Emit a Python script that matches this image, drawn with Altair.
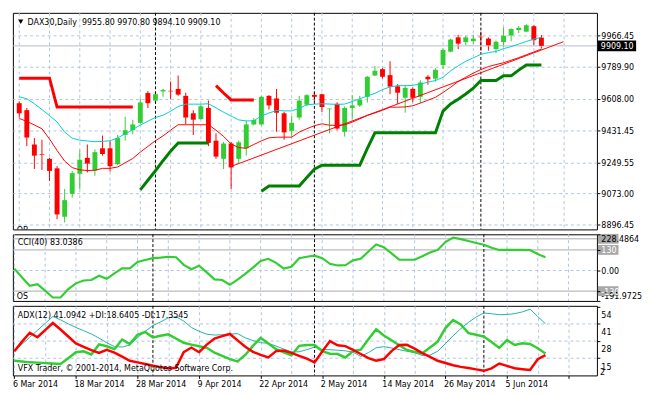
import altair as alt
import pandas as pd

# ---------------- data ----------------
tick_labels = ["6 Mar 2014", "18 Mar 2014", "28 Mar 2014", "9 Apr 2014", "22 Apr 2014",
               "2 May 2014", "14 May 2014", "26 May 2014", "5 Jun 2014"]
month_starts = [18, 39, 61]
price_ticks = [8896.45, 9073.00, 9249.55, 9431.45, 9608.00, 9789.90, 9966.45]

open_ = [9584.4, 9544.9, 9350.4, 9294.7, 9269.3, 9215.3, 8941.3, 9071.0, 9184.5, 9274.7,
         9202.9, 9328.8, 9328.8, 9238.6, 9404.4, 9431.5, 9473.1, 9642.2, 9599.0, 9651.4,
         9654.6, 9665.4, 9626.0, 9527.1, 9494.7, 9557.4, 9372.1, 9269.3, 9355.8, 9269.3,
         9328.8, 9463.9, 9463.9, 9626.0, 9611.4, 9527.1, 9427.7, 9503.3, 9575.8, 9631.4,
         9635.2, 9550.3, 9581.1, 9422.3, 9557.4, 9571.9, 9620.6, 9741.1, 9777.3, 9743.3,
         9680.0, 9615.2, 9665.4, 9620.6, 9734.1, 9723.3, 9800.6, 9876.2, 9957.3, 9930.2,
         9935.6, 9961.0, 9950.2, 9890.8, 9930.2, 9968.1, 9998.9, 9989.7, 10020.5, 9955.80]
high = [9593.6, 9557.4, 9386.6, 9377.4, 9274.7, 9227.7, 9098.0, 9200.7, 9318.0, 9350.4,
        9323.4, 9400.7, 9372.1, 9404.4, 9507.1, 9490.9, 9611.4, 9653.0, 9647.6, 9665.4,
        9707.1, 9741.1, 9643.8, 9544.9, 9575.8, 9599.0, 9413.6, 9365.0, 9365.0, 9372.1,
        9485.5, 9500.1, 9626.0, 9629.8, 9665.4, 9535.8, 9512.5, 9626.0, 9635.2, 9647.6,
        9638.4, 9554.1, 9589.8, 9566.6, 9629.8, 9626.0, 9737.9, 9795.1, 9782.7, 9822.2,
        9692.5, 9683.8, 9674.6, 9714.1, 9743.3, 9782.7, 9894.6, 9950.2, 9971.9, 9966.5,
        9971.9, 9989.7, 9957.3, 9939.4, 10013.5, 10008.1, 10022.1, 10031.3, 10025.9, 9970.80]
low = [9501.7, 9341.2, 9211.5, 9206.1, 9143.4, 8927.3, 8908.9, 9049.4, 9098.0, 9192.1,
       9173.7, 9287.2, 9197.5, 9233.1, 9372.1, 9408.2, 9467.7, 9557.4, 9584.4, 9620.6,
       9606.0, 9626.0, 9463.9, 9404.4, 9490.9, 9341.2, 9269.3, 9211.5, 9098.0, 9242.3,
       9287.2, 9458.5, 9458.5, 9548.7, 9422.3, 9377.4, 9395.3, 9490.9, 9566.6, 9593.6,
       9534.1, 9413.6, 9431.5, 9395.3, 9494.7, 9562.8, 9588.2, 9737.9, 9724.9, 9635.2,
       9581.1, 9530.4, 9589.8, 9584.4, 9689.2, 9707.1, 9778.9, 9873.0, 9890.8, 9912.4,
       9921.6, 9881.6, 9881.6, 9867.6, 9900.0, 9935.6, 9981.0, 9986.4, 9912.4, 9894.10]
close = [9527.1, 9389.8, 9287.2, 9291.0, 9200.7, 8954.3, 9035.3, 9188.3, 9263.9, 9242.3,
         9307.2, 9296.4, 9227.7, 9386.6, 9431.5, 9463.9, 9588.2, 9584.4, 9635.2, 9660.0,
         9651.4, 9633.0, 9503.3, 9490.9, 9566.6, 9359.6, 9281.8, 9355.8, 9220.7, 9362.8,
         9463.9, 9489.3, 9620.6, 9571.9, 9530.4, 9419.0, 9473.1, 9599.0, 9629.8, 9620.6,
         9562.8, 9554.1, 9440.6, 9557.4, 9571.9, 9602.8, 9734.1, 9768.1, 9734.1, 9678.4,
         9643.8, 9670.9, 9615.2, 9701.6, 9719.5, 9773.5, 9885.4, 9944.8, 9921.6, 9957.3,
         9950.2, 9957.8, 9912.4, 9932.4, 9966.5, 10004.3, 10011.3, 10025.9, 9941.0, 9909.10]

ma_cyan = [9620.6, 9609.3, 9581.2, 9548.2, 9514.1, 9478.5, 9420.6, 9386.1, 9374.7, 9370.4,
           9366.1, 9367.7, 9371.5, 9388.2, 9410.4, 9435.2, 9460.6, 9482.8, 9503.9, 9516.3,
           9539.0, 9565.5, 9579.0, 9579.0, 9579.0, 9581.2, 9557.9, 9533.1, 9511.4, 9489.8,
           9483.9, 9485.0, 9512.5, 9528.7, 9543.3, 9541.2, 9540.6, 9555.2, 9575.8, 9579.0,
           9581.2, 9579.5, 9577.4, 9579.5, 9593.6, 9609.3, 9625.5, 9640.1, 9661.1, 9676.3,
           9683.8, 9683.8, 9685.4, 9693.0, 9703.8, 9712.5, 9731.4, 9767.6, 9796.2, 9821.6,
           9841.1, 9861.1, 9871.3, 9877.3, 9893.5, 9904.8, 9919.4, 9934.0, 9947.5, 9957.3]
ma_red = [9497.9, 9481.2, 9461.2, 9439.6, 9381.7, 9316.4, 9256.4, 9219.6, 9206.6, 9202.9,
          9204.5, 9215.3, 9215.3, 9222.9, 9247.2, 9271.0, 9307.2, 9339.6, 9372.0, 9399.0,
          9431.5, 9462.3, 9462.3, 9462.3, 9462.3, 9462.3, 9431.5, 9396.3, 9353.1, 9333.1,
          9328.8, 9350.4, 9371.0, 9388.2, 9391.5, 9392.0, 9392.0, 9420.6, 9439.6, 9456.9,
          9467.7, 9459.6, 9458.5, 9461.7, 9476.9, 9495.8, 9515.2, 9529.3, 9544.4, 9561.7,
          9561.7, 9563.3, 9569.8, 9585.0, 9601.2, 9617.9, 9644.9, 9674.6, 9707.1, 9731.4,
          9754.6, 9774.6, 9791.9, 9803.2, 9813.5, 9827.6, 9842.2, 9858.4, 9874.6, 9890.8]

trend_k = [27.9, 71.9]
trend_p = [9224.5, 9932.4]

stop_red1_k = [0, 4, 5, 15]
stop_red1_p = [9725.9, 9725.9, 9562.8, 9562.8]
stop_red2_k = [26, 27, 28, 31]
stop_red2_p = [9683.8, 9642.2, 9602.8, 9602.8]
stop_green1_k = [16, 17, 18, 19, 20, 21, 25]
stop_green1_p = [9093.7, 9147.7, 9201.7, 9258.5, 9312.6, 9358.5, 9358.5]
stop_green2_k = list(range(32, 70))
stop_green2_p = [9085.6, 9115.3, 9115.3, 9115.3, 9115.3, 9115.3, 9163.9, 9209.9, 9233.1, 9233.1,
                 9233.1, 9233.1, 9233.1, 9233.1, 9328.8, 9416.9, 9416.9, 9416.9, 9416.9, 9416.9,
                 9416.9, 9416.9, 9416.9, 9416.9, 9539.5, 9580.0, 9607.1, 9636.8, 9669.0, 9712.6,
                 9712.6, 9712.6, 9739.5, 9739.5, 9771.9, 9800.6, 9800.6, 9800.6]

cci = [12, -44, -96, -86, -128, -170, -170, -117, -81, -63,
       -60, -33, -52, -18, 14, 14, 54, 66, 78, 81,
       87, 84, 36, 8, 30, -12, -56, -60, -90, -57,
       -21, 18, 60, 74, 48, 12, 24, 78, 87, 94,
       78, 42, 32, 33, 64, 74, 120, 164, 147, 108,
       69, 68, 68, 90, 114, 130, 180, 208, 198, 186,
       174, 163, 144, 130, 130, 130, 130, 129, 104, 83.0386]
cci_levels = [200, 130, -130]

adx = [20.3, 25.7, 30.9, 36.2, 41.4, 46.6, 44.1, 41.1, 38.3, 35.9,
       33.4, 30.3, 26.8, 23.8, 23.5, 25.0, 30.7, 35.4, 39.7, 42.6,
       45.6, 46.5, 43.2, 38.3, 35.4, 33.2, 32.6, 32.8, 33.3, 33.6,
       30.5, 28.4, 26.8, 26.3, 24.2, 22.0, 19.8, 19.9, 21.5, 23.5,
       21.6, 21.5, 21.1, 20.6, 19.7, 16.3, 19.3, 22.9, 23.8, 22.8,
       21.5, 20.3, 19.3, 17.1, 17.4, 20.3, 26.1, 32.0, 37.4, 42.2,
       46.3, 49.3, 48.7, 48.0, 48.2, 48.8, 50.1, 52.2, 46.6, 41.0942]
pdi = [13.1, 12.5, 11.9, 11.7, 11.3, 11.0, 10.7, 15.0, 19.6, 20.3,
       17.9, 25.5, 24.1, 21.9, 29.2, 25.7, 32.8, 34.9, 30.8, 32.0,
       33.1, 30.0, 26.7, 25.3, 24.1, 22.9, 19.2, 16.8, 14.3, 12.6,
       17.5, 24.4, 30.5, 26.2, 21.9, 19.5, 17.3, 24.4, 25.1, 25.1,
       20.4, 18.4, 18.2, 15.6, 20.4, 21.5, 29.4, 37.0, 32.2, 28.7,
       24.9, 21.3, 19.7, 18.8, 23.2, 27.6, 37.9, 43.9, 40.6, 34.0,
       32.8, 31.4, 27.3, 22.8, 28.7, 25.1, 26.3, 25.8, 22.6, 18.6405]
mdi = [20.3, 27.6, 34.3, 30.9, 36.3, 41.7, 36.8, 31.5, 26.2, 23.7,
       21.2, 19.1, 21.4, 19.3, 16.2, 13.1, 11.9, 10.7, 9.4, 8.3,
       7.3, 7.8, 19.6, 23.1, 19.6, 25.3, 29.9, 31.8, 33.4, 28.5,
       23.7, 19.9, 17.6, 15.6, 20.4, 20.9, 19.1, 16.8, 14.7, 11.9,
       20.1, 28.0, 24.8, 24.2, 21.3, 18.2, 15.1, 13.1, 14.4, 20.4,
       25.1, 25.2, 22.3, 18.9, 16.1, 13.1, 11.4, 9.7, 8.5, 7.6,
       6.6, 5.5, 7.4, 11.0, 9.2, 7.4, 6.7, 6.1, 14.3, 17.3545]
adx_ticks = [54, 41, 28, 15]
adx_grid = [41, 28, 15]

# ---------------- styling ----------------
FONT = "DejaVu Sans Condensed, Liberation Sans, sans-serif"
FS = 9
GRID = "#B0C4DE"
UP, DOWN = "#32CD32", "#FF0000"
W = 596
H_MAIN, H_CCI, H_ADX = 221, 68, 71

n = len(close)
ks = list(range(n))
bars = pd.DataFrame({"k": ks, "open": open_, "high": high, "low": low, "close": close,
                     "dir": ["up" if c >= o else "down" for o, c in zip(open_, close)]})
lines = pd.DataFrame({"k": ks, "ma_cyan": ma_cyan, "ma_red": ma_red,
                      "cci": cci, "adx": adx, "pdi": pdi, "mdi": mdi})
stops = pd.concat([
    pd.DataFrame({"seg": "r1", "clr": "#FF0000", "k": stop_red1_k, "price": stop_red1_p}),
    pd.DataFrame({"seg": "r2", "clr": "#FF0000", "k": stop_red2_k, "price": stop_red2_p}),
    pd.DataFrame({"seg": "g1", "clr": "#008000", "k": stop_green1_k, "price": stop_green1_p}),
    pd.DataFrame({"seg": "g2", "clr": "#008000", "k": stop_green2_k, "price": stop_green2_p}),
])
trend = pd.DataFrame({"k": trend_k, "price": trend_p})
months = pd.DataFrame({"k": month_starts})
bid = pd.DataFrame({"price": [close[-1]], "lbl": [f"{close[-1]:.2f}"]})

xs = alt.Scale(domain=[-0.19, 75.69], nice=False, zero=False)
grid_vals = list(range(0, 76, 4))
vgrid = pd.DataFrame({"k": grid_vals})
js_labels = "[" + ",".join("'" + s + "'" for s in tick_labels) + "]"
ax_x_bottom = alt.Axis(
    values=grid_vals, grid=True, gridColor=GRID, gridDash=[3, 3], domain=False, title=None,
    labelExpr=f"(datum.value % 8 == 0 && datum.value / 8 < {len(tick_labels)}) ? {js_labels}[datum.value / 8] : ''",
    labelAlign="left", labelOffset=-2, labelFlush=False, labelOverlap=False, labelPadding=1,
    tickSize=3, tickColor="black",
    tickOpacity={"condition": {"test": "datum.value % 8 == 0", "value": 1}, "value": 0})
X = alt.X("k:Q", scale=xs, axis=None, title=None)
XB = alt.X("k:Q", scale=xs, axis=ax_x_bottom, title=None)

ps = alt.Scale(domain=[8869.4, 10096.2], nice=False, zero=False)
ax_p = alt.Axis(orient="right", values=price_ticks, format=".2f", grid=True, gridColor=GRID,
                gridDash=[3, 3], tickSize=3, labelPadding=1, domain=False, title=None,
                labelOverlap=False)


def PY(f):
    return alt.Y(f"{f}:Q", scale=ps, axis=ax_p, title=None)


col = alt.Color("dir:N", scale=alt.Scale(domain=["up", "down"], range=[UP, DOWN]), legend=None)
one = pd.DataFrame({"t": [f"DAX30,Daily\u00a0\u00a0{open_[-1]:.2f} {high[-1]:.2f} {low[-1]:.2f} {close[-1]:.2f}"]})

vgrid_main = alt.Chart(vgrid).mark_rule(color=GRID, strokeDash=[3, 3], strokeWidth=1).encode(x=X)
wick = alt.Chart(bars).mark_rule(strokeWidth=1).encode(x=X, y=PY("low"), y2="high", color=col)
body = alt.Chart(bars).mark_bar(size=5).encode(x=X, y=PY("open"), y2="close", color=col)
sep_main = alt.Chart(months).mark_rule(color="black", strokeDash=[3, 2], strokeWidth=1).encode(x=X)
bidline = alt.Chart(bid).mark_rule(color="#B4BDCA", strokeWidth=1).encode(y=PY("price"))
cyan_l = alt.Chart(lines).mark_line(color="#00CED1", strokeWidth=1).encode(x=X, y=PY("ma_cyan"))
red_l = alt.Chart(lines).mark_line(color="#FF0000", strokeWidth=1).encode(x=X, y=PY("ma_red"))
trend_l = alt.Chart(trend).mark_line(color="#FF0000", strokeWidth=1).encode(x=X, y=PY("price"))
stop_l = alt.Chart(stops).mark_line(strokeWidth=3).encode(
    x=X, y=PY("price"), detail="seg:N", color=alt.Color("clr:N", scale=None))
box = alt.Chart(bid).mark_rule(color="black", strokeWidth=11).encode(
    y=PY("price"), x=alt.value(W + 1), x2=alt.value(W + 40))
box_t = alt.Chart(bid).mark_text(align="left", baseline="middle", color="white", fontSize=FS).encode(
    y=PY("price"), x=alt.value(W + 4), text="lbl:N")
title_t = alt.Chart(one).mark_text(align="left", baseline="middle", color="black", fontSize=FS).encode(
    x=alt.value(15), y=alt.value(9), text="t:N")
tri = alt.Chart(one).mark_point(shape="triangle-down", filled=True, color="black", size=28, opacity=1).encode(
    x=alt.value(8), y=alt.value(9))
ob_t = alt.Chart(pd.DataFrame({"t": ["OB"]})).mark_text(align="left", baseline="middle", fontSize=FS,
                                                       color="black", clip=True).encode(
    x=alt.value(4), y=alt.value(H_MAIN + 1), text="t:N")

main = alt.layer(vgrid_main, wick, sep_main, bidline, body, cyan_l, red_l, trend_l, stop_l, box, box_t,
                 title_t, tri, ob_t).properties(width=W, height=H_MAIN)

# ---- CCI panel ----
cs = alt.Scale(domain=[-191.9725, 228.4864], nice=False, zero=False)
ax_c = alt.Axis(orient="right", values=[-191.9725, -130, 0, 130, 228.4864],
                labelExpr="datum.value == 0 ? '0.00' : ((datum.value < 0 ? '-' : '') + (abs(datum.value) == 130 ? '130' : format(abs(datum.value), '.4f')))",
                labelFlush=True, labelOverlap=False, grid=False, tickSize=3, labelPadding=1,
                domain=False, title=None, zindex=1,
                labelColor={"condition": {"test": "abs(datum.value) == 130", "value": "white"}, "value": "black"})


def CY(f):
    return alt.Y(f"{f}:Q", scale=cs, axis=ax_c, title=None)


lv = pd.DataFrame({"v": cci_levels})
zero_df = pd.DataFrame({"v": [0]})
os_df = pd.DataFrame({"v": [-130], "t": ["OS"]})
vgrid_c = alt.Chart(vgrid).mark_rule(color=GRID, strokeDash=[3, 3], strokeWidth=1).encode(x=X)
cci_line = alt.Chart(lines).mark_line(color=UP, strokeWidth=2.2).encode(x=X, y=CY("cci"))
sep_c = alt.Chart(months).mark_rule(color="black", strokeDash=[3, 2]).encode(x=X)
lv_rules = alt.Chart(lv).mark_rule(color="#A8A8A8", strokeWidth=1).encode(y=CY("v"))
zero_rule = alt.Chart(zero_df).mark_rule(color=GRID, strokeDash=[3, 3]).encode(y=CY("v"))
lv_boxes = alt.Chart(lv).mark_rule(color="#A8A8A8", strokeWidth=10).encode(
    y=CY("v"), x=alt.value(W + 1), x2=alt.value(W + 22))
os_t = alt.Chart(os_df).mark_text(align="left", baseline="top", dy=1, fontSize=FS, color="black").encode(
    x=alt.value(4), y=CY("v"), text="t:N")
cci_t = alt.Chart(pd.DataFrame({"t": [f"CCI(40) {cci[-1]:.4f}"]})).mark_text(
    align="left", baseline="middle", fontSize=FS, color="black").encode(x=alt.value(5), y=alt.value(8), text="t:N")
cci_panel = alt.layer(vgrid_c, lv_rules, zero_rule, sep_c, cci_line, lv_boxes, os_t, cci_t
                      ).properties(width=W, height=H_CCI)

# ---- ADX panel ----
as_ = alt.Scale(domain=[2.0, 54.7], nice=False, zero=False)
ax_a = alt.Axis(orient="right", values=adx_ticks, grid=False, tickSize=3, labelPadding=1,
                labelOffset=8, domain=False, title=None, labelOverlap=False)


def AY(f):
    return alt.Y(f"{f}:Q", scale=as_, axis=ax_a, title=None)


adx_line = alt.Chart(lines).mark_line(color="#20B2AA", strokeWidth=1).encode(x=XB, y=AY("adx"))
pdi_line = alt.Chart(lines).mark_line(color=UP, strokeWidth=2.5).encode(x=XB, y=AY("pdi"))
mdi_line = alt.Chart(lines).mark_line(color=DOWN, strokeWidth=2.5).encode(x=XB, y=AY("mdi"))
sep_a = alt.Chart(months).mark_rule(color="black", strokeDash=[3, 2]).encode(x=XB)
agrid = alt.Chart(pd.DataFrame({"v": adx_grid})).mark_rule(color=GRID, strokeDash=[3, 3]).encode(y=AY("v"))
two_t = alt.Chart(pd.DataFrame({"v": [4.5], "t": ["2"]})).mark_text(
    align="left", baseline="middle", fontSize=FS, color="black").encode(x=alt.value(W + 3), y=AY("v"), text="t:N")
adx_t = alt.Chart(pd.DataFrame({"t": [f"ADX(12) {adx[-1]:.4f} +DI:{pdi[-1]:.4f} -DI:{mdi[-1]:.4f}"]})).mark_text(
    align="left", baseline="middle", fontSize=FS, color="black").encode(x=alt.value(5), y=alt.value(9), text="t:N")
foot_t = alt.Chart(pd.DataFrame({"t": ["VFX Trader, \u00a9 2001-2014, MetaQuotes Software Corp."]})).mark_text(
    align="left", baseline="middle", fontSize=FS, color="black").encode(x=alt.value(5), y=alt.value(H_ADX - 7), text="t:N")
adx_panel = alt.layer(agrid, sep_a, adx_line, pdi_line, mdi_line, two_t, adx_t, foot_t
                      ).properties(width=W, height=H_ADX)

chart = alt.vconcat(main, cci_panel, adx_panel, spacing=2).properties(
    padding=0, background="white"
).configure_view(stroke="black", strokeWidth=1).configure_axis(
    labelFont=FONT, labelFontSize=FS, labelColor="black", tickColor="black"
).configure_text(font=FONT)

chart.save("out.html", embed_options={"renderer": "svg", "actions": False})
